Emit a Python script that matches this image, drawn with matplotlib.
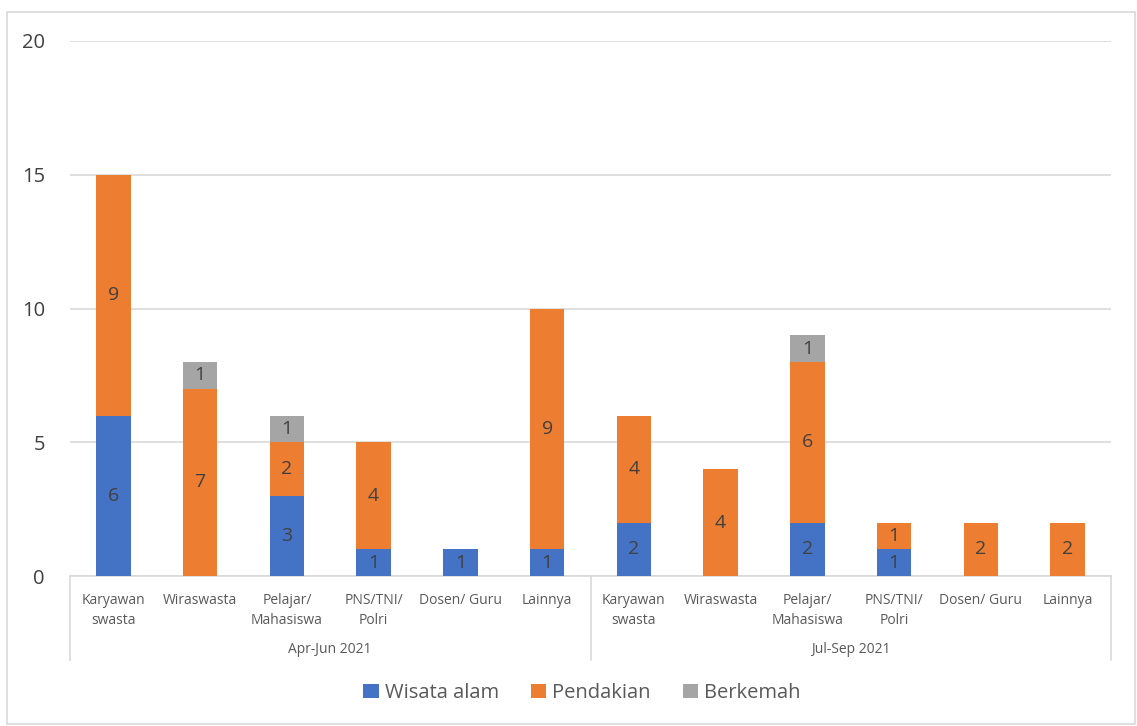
import numpy as np
import matplotlib.pyplot as plt
from matplotlib.patches import Rectangle

plt.rcParams['font.family'] = ['Open Sans', 'DejaVu Sans']

jobs = ['Karyawan\nswasta', 'Wiraswasta', 'Pelajar/\nMahasiswa', 'PNS/TNI/\nPolri',
        'Dosen/ Guru', 'Lainnya']
periods = ['Apr-Jun 2021', 'Jul-Sep 2021']

wisata = [6, 0, 3, 1, 1, 1, 2, 0, 2, 1, 0, 0]
pendakian = [9, 7, 2, 4, 0, 9, 4, 4, 6, 1, 2, 2]
berkemah = [0, 1, 1, 0, 0, 0, 0, 0, 1, 0, 0, 0]

series = [('Wisata alam', wisata, '#4472C4'),
          ('Pendakian', pendakian, '#ED7D31'),
          ('Berkemah', berkemah, '#A5A5A5')]

W, H = 1137, 726
fig = plt.figure(figsize=(W / 100, H / 100), dpi=100)
fig.patches.append(Rectangle((7 / W, 2 / H), 1128 / W, (H - 14) / H, transform=fig.transFigure,
                             fill=False, edgecolor='#D9D9D9', linewidth=1.2))

ax = fig.add_axes([70 / W, (H - 576) / H, (1111 - 70) / W, (576 - 41) / H])

x = np.arange(len(wisata))
bottom = np.zeros(len(x))
for name, vals, color in series:
    vals = np.array(vals, dtype=float)
    ax.bar(x, vals, 0.4, bottom=bottom, color=color, label=name, zorder=3)
    for xi, b, v in zip(x, bottom, vals):
        if v > 0:
            ax.text(xi, b + v / 2, f'{int(v)}', ha='center', va='center',
                    fontsize=14, color='#404040', zorder=4)
    bottom += vals

ax.set_xlim(-0.5, len(x) - 0.5)
ax.set_ylim(0, 20)
ax.set_yticks([0, 5, 10, 15, 20])
ax.yaxis.grid(True, color='#D9D9D9', linewidth=1.2, zorder=0)
ax.tick_params(axis='y', length=0, labelsize=14.5, labelcolor='#404040', pad=18)
for s in ['top', 'right', 'left']:
    ax.spines[s].set_visible(False)
ax.spines['bottom'].set_color('#D9D9D9')
ax.spines['bottom'].set_linewidth(1.2)

ax.set_xticks(x)
ax.set_xticklabels(jobs * 2, fontsize=10, color='#595959', linespacing=1.5)
ax.tick_params(axis='x', length=0, pad=12)

# second level of the category axis
trans = ax.get_xaxis_transform()
for xb in [-0.5, 5.5, 11.5]:
    ax.plot([xb, xb], [0, -0.157], transform=trans, color='#D9D9D9', lw=1.2, clip_on=False)
for i, p in enumerate(periods):
    ax.text(2.5 + 6 * i, -0.138, p, transform=trans, ha='center', va='center',
            fontsize=10, color='#595959')

fig.legend(loc='center', bbox_to_anchor=(582 / W, (H - 693) / H), ncol=3, frameon=False,
           fontsize=14.5, labelcolor='#595959', handlelength=0.75, handleheight=0.75,
           handletextpad=0.3, columnspacing=1.6)

fig.savefig('out.png', dpi=100)
